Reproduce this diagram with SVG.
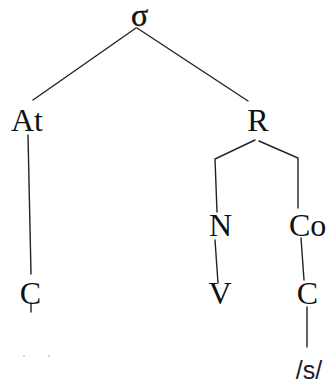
<svg xmlns="http://www.w3.org/2000/svg" width="326" height="384" viewBox="0 0 326 384">
<style>
.lbl{font-family:"Liberation Serif","Times New Roman",serif;font-size:32px;fill:#111}
.ph{font-family:"Liberation Sans",Arial,sans-serif;font-size:25px;fill:#1a1a2a}
.edge{stroke:#222;stroke-width:1.4;fill:none;stroke-linecap:round}
</style>
<rect width="326" height="384" fill="#fff"/>
<g id="connectors">
<line class="edge" x1="136" y1="28" x2="33" y2="100"/>
<line class="edge" x1="137" y1="28" x2="248" y2="101"/>
<line class="edge" x1="28" y1="135" x2="31" y2="274"/>
<line class="edge" x1="31" y1="303" x2="31" y2="312"/>
<polyline class="edge" points="255,140 215,159 217,212"/>
<polyline class="edge" points="259,141 298,158 298,208"/>
<line class="edge" x1="215" y1="240" x2="218" y2="283"/>
<line class="edge" x1="301" y1="238" x2="304" y2="280"/>
<line class="edge" x1="307" y1="307" x2="307" y2="347"/>
</g>
<g id="sigma"><text class="lbl" x="139.5" y="25.5" text-anchor="middle" font-size="28" stroke="#111" stroke-width="0.4">σ</text></g>
<g id="At"><text class="lbl" x="11" y="131">At</text></g>
<g id="R"><text class="lbl" x="258" y="131" text-anchor="middle">R</text></g>
<g id="N"><text class="lbl" x="220.5" y="236" text-anchor="middle">N</text></g>
<g id="Co"><text class="lbl" x="289" y="236">Co</text></g>
<g id="C1"><text class="lbl" x="30.5" y="304" text-anchor="middle">C</text></g>
<g id="V"><text class="lbl" x="220" y="304" text-anchor="middle">V</text></g>
<g id="C2"><text class="lbl" x="307.5" y="304" text-anchor="middle">C</text></g>
<g id="s"><text class="ph" x="309" y="379" text-anchor="middle">/s/</text></g>
<g id="dots" fill="#e08080">
<circle cx="24" cy="356" r="0.8"/>
<circle cx="49" cy="356" r="0.8"/>
</g>
</svg>
